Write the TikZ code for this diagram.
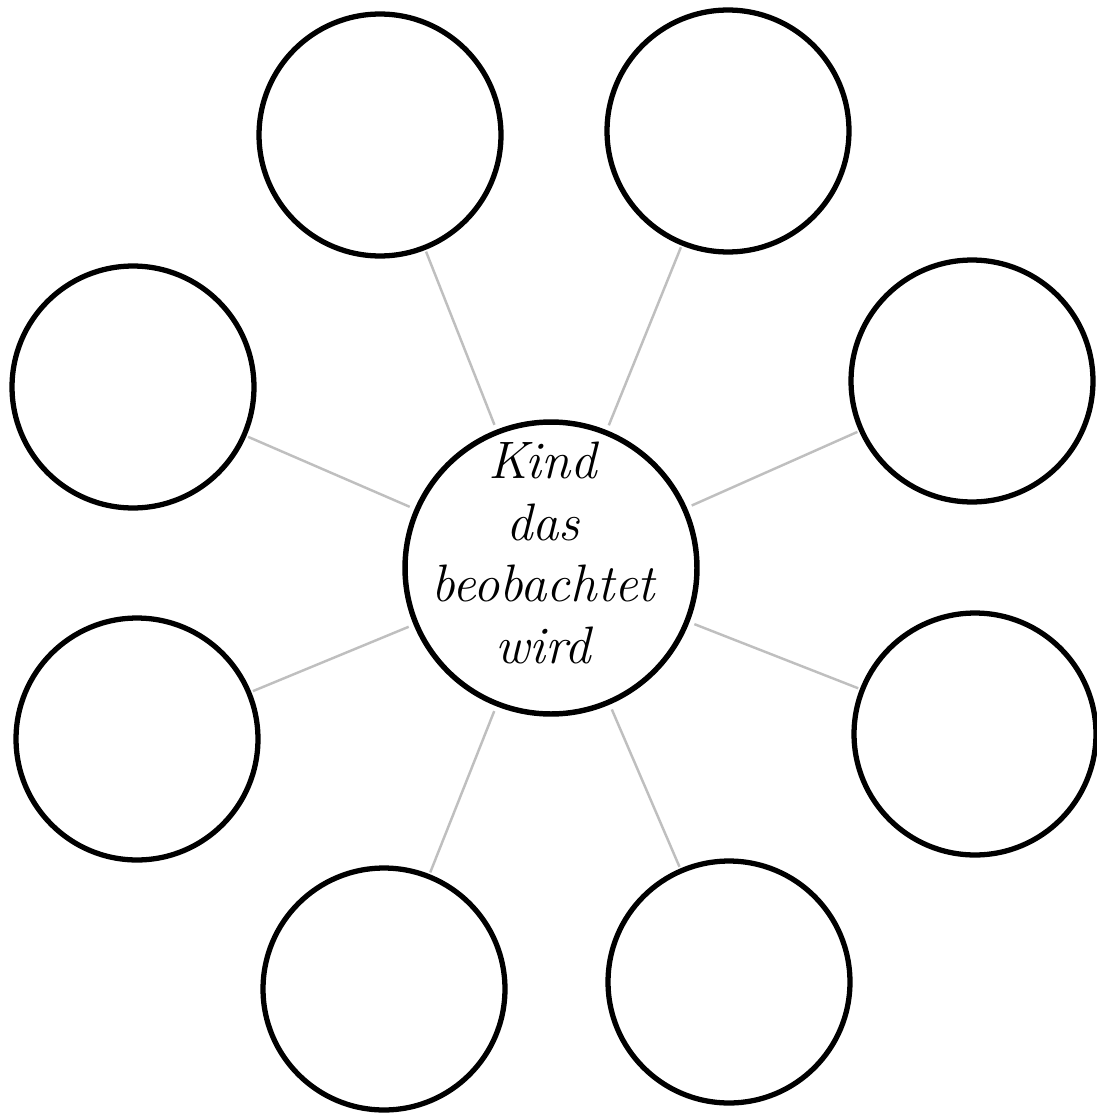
\documentclass[tikz,border=0pt]{standalone}
\usepackage{tikz}
\tikzset{
  bubble/.style={
    shape = circle,
    draw,
    line width = 3pt,
    inner sep = 0pt,
    minimum size = 4.84cm
  },
  hub/.style={
    shape = circle,
    draw,
    line width = 3.1pt,
    inner sep = 0pt,
    minimum size = 5.84cm
  },
  spoke/.style={
    draw = gray!50,
    line width = 1.4pt,
    shorten <= 3pt,
    shorten >= 1pt
  }
}

\begin{document}
\begin{tikzpicture}[x=0.02cm, y=-0.02cm]
            \useasboundingbox (0,0) rectangle (1097,1115);
            \node[hub] (c) at (551,568) {};
            \node[align=center, font=\fontsize{30}{35}\selectfont\itshape] (txt) at (543,553) {Kind\\das\\beobachtet\\wird};
            \foreach \n/\x/\y in {1/380/135, 2/728/131, 3/972/381, 4/975/734,
                                   5/729/982, 6/384/989, 7/137/739, 8/133/387}{
                    \node[bubble] (o\n) at (\x,\y) {};
                    \draw[spoke] (c) -- (o\n);
                }
        \end{tikzpicture}
\end{document}
